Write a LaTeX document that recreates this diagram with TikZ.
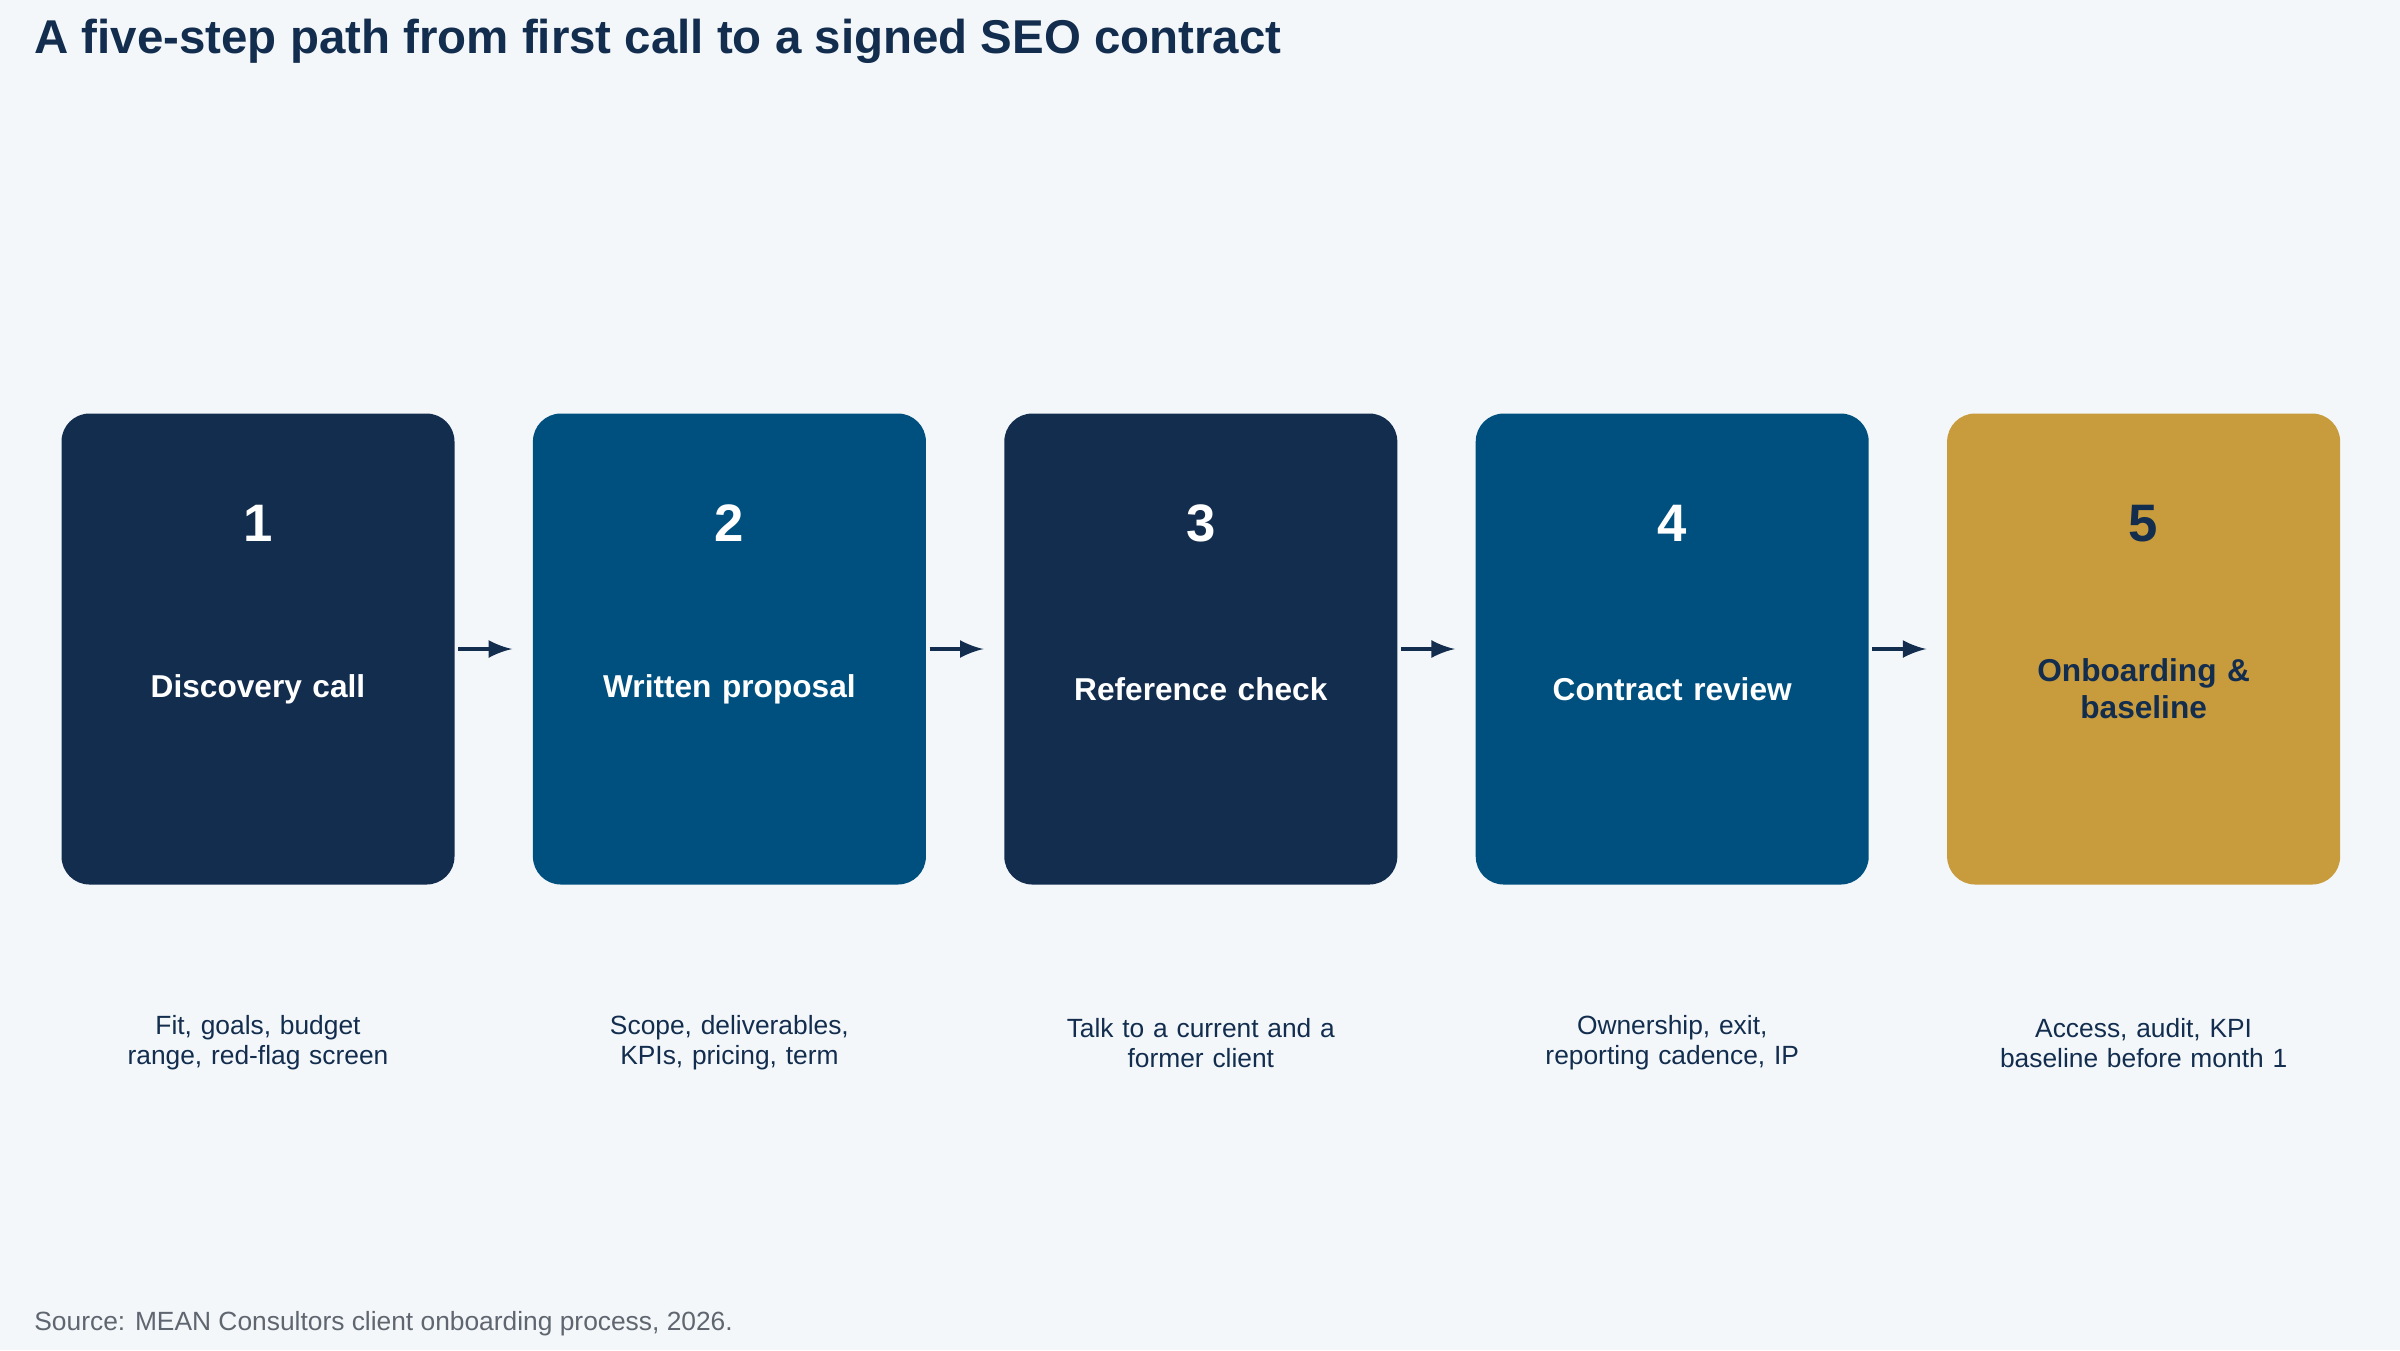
\documentclass[tikz,border=0pt]{standalone}
\usepackage{fontspec}
\setmainfont{Liberation Sans}
\usetikzlibrary{positioning}
\definecolor{bg}{HTML}{F3F7FA}
\definecolor{navy}{HTML}{132D4E}
\definecolor{ocean}{HTML}{00507F}
\definecolor{gold}{HTML}{C89B3C}
\definecolor{greytext}{HTML}{5F6670}
\tikzset{
    stage/.style={rounded corners=0.28cm, minimum width=3.93cm, minimum height=4.71cm, inner sep=0pt},
    num/.style={font=\fontsize{15}{18}\selectfont\bfseries},
    lab/.style={font=\fontsize{9}{10.5}\selectfont\bfseries, align=center, text width=3.4cm},
    desc/.style={font=\fontsize{7.5}{8.5}\selectfont, align=center, text=navy, text width=3.6cm},
    link/.style={-latex, line width=1.3pt, draw=navy}
}
\begin{document}
\begin{tikzpicture}

    % Background and frame
    \fill[bg] (0,0) rectangle (24,-13.5);
    \useasboundingbox (0,0) rectangle (24,-13.5);

    % Title
    \node[anchor=west, text=navy, font=\fontsize{13.5}{16}\selectfont\bfseries] (title) at (0.22,-0.41)
        {A five-step path from first call to a signed SEO contract};

    % Steps
    \foreach \i/\fillc/\txtc/\name/\info in {
        1/navy/white/{Discovery call}/{Fit, goals, budget\\range, red-flag screen},
        2/ocean/white/{Written proposal}/{Scope, deliverables,\\KPIs, pricing, term},
        3/navy/white/{Reference check}/{Talk to a current and a\\former client},
        4/ocean/white/{Contract review}/{Ownership, exit,\\reporting cadence, IP},
        5/gold/navy/{Onboarding \&\\baseline}/{Access, audit, KPI\\baseline before month 1}}
    {
        \node[stage, fill=\fillc] (box\i) at ({2.58+(\i-1)*4.714},-6.49) {};
        \node[num, text=\txtc] (num\i) at ({2.58+(\i-1)*4.714},-5.235) {\i};
        \node[lab, text=\txtc] (lab\i) at ({2.58+(\i-1)*4.714},-6.888) {\name};
        \node[desc] (desc\i) at ({2.58+(\i-1)*4.714},-10.43) {\info};
    }

    % Arrows
    \foreach \a/\b in {1/2, 2/3, 3/4, 4/5}
        \draw[link] ([xshift=0.03cm]box\a.east) -- ([xshift=-0.2cm]box\b.west);

    % Source
    \node[anchor=west, text=greytext, font=\fontsize{7.5}{9}\selectfont] (source) at (0.22,-13.24)
        {Source: MEAN Consultors client onboarding process, 2026.};

\end{tikzpicture}
\end{document}
